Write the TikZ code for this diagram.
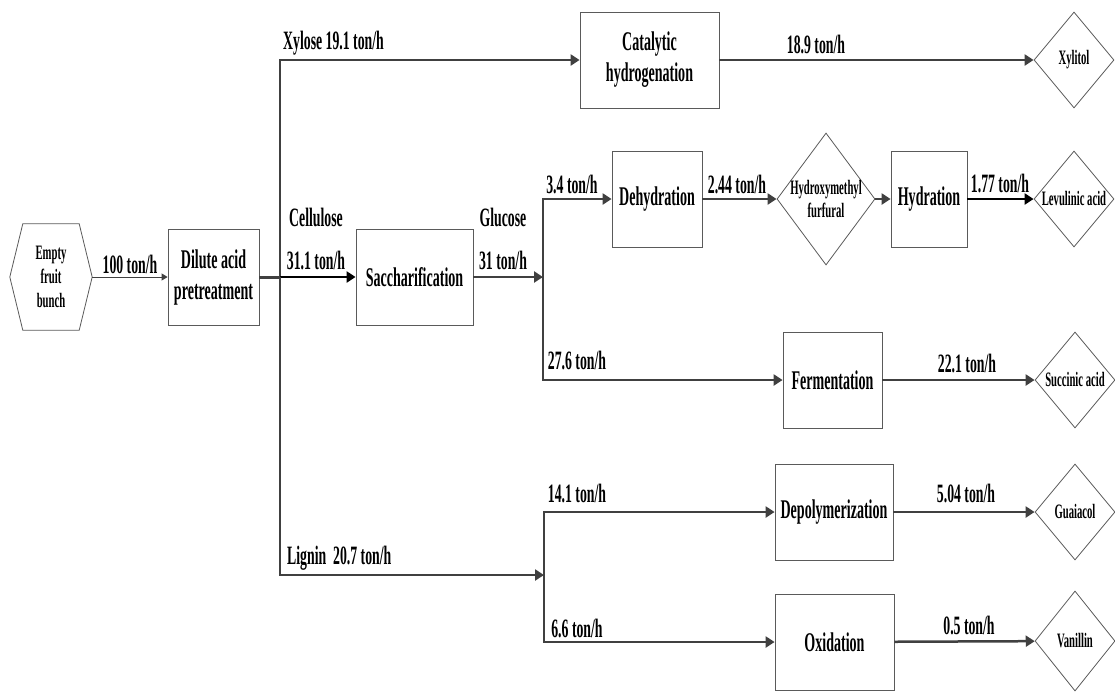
\documentclass[tikz,border=0pt]{standalone}
\usepackage{fontspec}
\setmainfont{Liberation Serif}[FakeStretch=0.52]
\usepackage{xcolor}
\usetikzlibrary{shapes.geometric,arrows.meta}
\definecolor{flowgray}{HTML}{404040}
\definecolor{boxgray}{HTML}{5A5A5A}

\begin{document}
\begin{tikzpicture}[x=1pt, y=-1pt,
        box/.style={rectangle, draw=boxgray, line width=0.8pt, minimum height=96pt, inner sep=0pt, align=center, font=\fontsize{27}{31}\selectfont\bfseries},
        product/.style={diamond, draw=boxgray, line width=0.8pt, minimum width=80pt, minimum height=96pt, inner sep=0pt, label={[font=\fontsize{20.5}{23}\selectfont\bfseries, align=center]center:#1}},
        flowlabel/.style={inner sep=0pt, font=\fontsize{26.5}{31}\selectfont\bfseries},
        arrow/.style={-{Triangle[length=9pt,width=11pt]}, draw=flowgray, line width=2.5pt},
        thinarrow/.style={-{Triangle[length=6pt,width=7pt]}, draw=flowgray, line width=1pt}
    ]
        \useasboundingbox (0,0) rectangle (1115,691);

        % feed
        \node[inner sep=0pt, minimum width=82pt, minimum height=106pt, align=center, font=\fontsize{20.5}{24}\selectfont\bfseries] (efb) at (51,277) {Empty\\fruit\\bunch};
        \draw[boxgray, line width=0.8pt] (efb.west) -- ([xshift=13pt]efb.north west) -- ([xshift=-13pt]efb.north east) -- (efb.east) -- ([xshift=-13pt]efb.south east) -- ([xshift=13pt]efb.south west) -- cycle;

        % process steps
        \node[box, minimum width=91pt] (dilute) at (213.5,277) {Dilute acid\\pretreatment};
        \node[box, minimum width=139pt] (cathyd) at (649.5,60) {Catalytic\\hydrogenation};
        \node[box, minimum width=117pt] (sacch) at (414.5,277) {Saccharification};
        \node[box, minimum width=90pt] (dehyd) at (657,199) {Dehydration};
        \node[box, minimum width=76pt] (hydra) at (929,199) {Hydration};
        \node[box, minimum width=99pt] (ferm) at (832.5,380) {Fermentation};
        \node[box, minimum width=118pt] (depoly) at (834,512) {Depolymerization};
        \node[box, minimum width=119pt] (oxid) at (834.5,642) {Oxidation};

        % products
        \node[product={Xylitol}] (xylitol) at (1074,60) {};
        \node[product={Hydroxymethyl\\furfural}, minimum width=98pt, minimum height=132pt] (hmf) at (826,199) {};
        \node[product={Levulinic acid}] (levul) at (1074,199) {};
        \node[product={Succinic acid}] (succ) at (1075,380) {};
        \node[product={Guaiacol}] (guaia) at (1075,512) {};
        \node[product={Vanillin}, minimum height=100pt] (vanil) at (1075,641) {};

        % branch points
        \coordinate (split1) at (280,277);
        \coordinate (split2) at (543,277);
        \coordinate (split3) at (544,575);

        % flows
        \draw[thinarrow] (efb.east) -- (dilute.west);
        \draw[flowgray, line width=3pt] (dilute.east) -- (split1);
        \draw[arrow] (split1) |- (cathyd.west);
        \draw[arrow, draw=black] (split1) -- (sacch.west);
        \draw[arrow] (split1) |- (split3);
        \draw[arrow] (sacch.east) -- (split2);
        \draw[arrow] (split2) |- (dehyd.west);
        \draw[arrow] (split2) |- (ferm.west);
        \draw[arrow] (cathyd) -- (xylitol);
        \draw[arrow] (dehyd) -- (hmf);
        \draw[arrow] (hmf) -- (hydra);
        \draw[arrow, draw=black] (hydra) -- (levul);
        \draw[arrow] (ferm) -- (succ);
        \draw[arrow] (split3) |- (depoly.west);
        \draw[arrow] (split3) |- (oxid.west);
        \draw[arrow] (depoly) -- (guaia);
        \draw[arrow] (oxid) -- (vanil);

        % flow labels
        \node[flowlabel] (l100) at (130,264) {100 ton/h};
        \node[flowlabel, anchor=west] (lxyl) at (283,43) {Xylose 19.1 ton/h};
        \node[flowlabel] (l189) at (816,44) {18.9 ton/h};
        \node[flowlabel] (lcel) at (316,217) {Cellulose};
        \node[flowlabel] (l311) at (316,260) {31.1 ton/h};
        \node[flowlabel] (lglu) at (503,217) {Glucose};
        \node[flowlabel] (l31) at (503,260) {31 ton/h};
        \node[flowlabel] (l34) at (572,184) {3.4 ton/h};
        \node[flowlabel] (l244) at (737,184) {2.44 ton/h};
        \node[flowlabel] (l177) at (1000,183) {1.77 ton/h};
        \node[flowlabel] (l276) at (577,360) {27.6 ton/h};
        \node[flowlabel] (l221) at (967,363) {22.1 ton/h};
        \node[flowlabel, anchor=west] (llig) at (287,558) {Lignin\ \ 20.7 ton/h};
        \node[flowlabel] (l141) at (577,493) {14.1 ton/h};
        \node[flowlabel] (l66) at (577,628) {6.6 ton/h};
        \node[flowlabel] (l504) at (966,493) {5.04 ton/h};
        \node[flowlabel] (l05) at (969,625) {0.5 ton/h};
    \end{tikzpicture}
\end{document}
